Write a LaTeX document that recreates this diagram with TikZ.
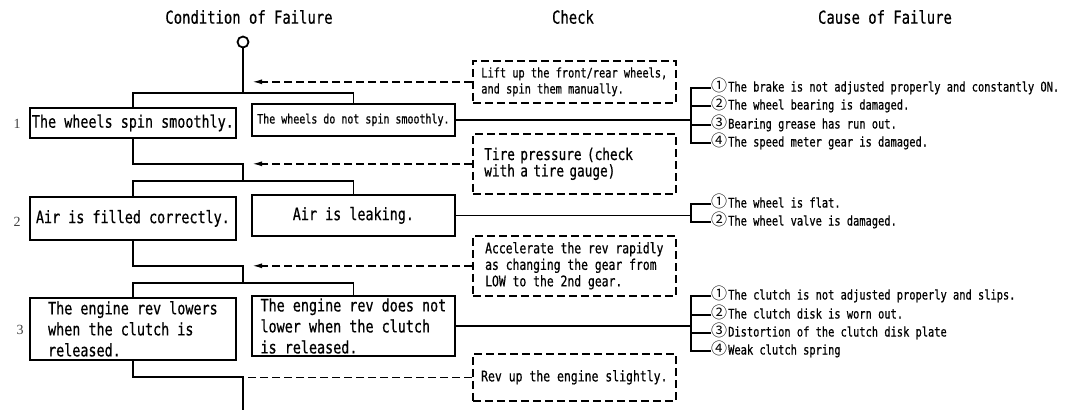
\documentclass[tikz,border=0pt]{standalone}
\usepackage{fontspec}
\setmainfont{DejaVu Sans Mono}[FakeStretch=0.78,FakeBold=0.6]
\newfontfamily\circfont{Noto Sans CJK JP}
\newfontfamily\numfont{Liberation Serif}
\usepackage{tikz}
\usetikzlibrary{arrows.meta,calc}

% circled item number in front of each cause
\newcommand{\cnum}[1]{\makebox[17pt][l]{\circfont\fontsize{16}{16}\selectfont #1}}

\begin{document}
\begin{tikzpicture}[x=1pt,y=-1pt,
  flow/.style={line width=1.8pt},
  hint/.style={line width=1.6pt, dash pattern=on 8pt off 4pt},
  head/.style={inner sep=0pt, font=\fontsize{17.8}{20}\selectfont},
  condbox/.style={draw, line width=1.8pt, anchor=north west, inner sep=1pt, align=left, font=\fontsize{17.2}{21}\selectfont},
  smalltext/.style={font=\fontsize{12.8}{14}\selectfont},
  checkbox/.style={draw, line width=1.6pt, dash pattern=on 8pt off 4pt, anchor=north west, minimum width=203, inner sep=1pt, align=left},
  cause/.style={anchor=west, inner sep=0pt, text height=10pt, text depth=3pt, font=\fontsize{13.3}{15}\selectfont},
  rowno/.style={inner sep=0pt, text=black!75, font=\numfont\fontsize{14}{16}\selectfont},
  startmark/.style={draw, circle, line width=1.8pt, minimum size=11, inner sep=0pt},
]
  \fill[white] (0,0) rectangle (1066,410);
  \useasboundingbox (0,0) rectangle (1066,410);

  % Column headings
  \node[head] (hcond) at (249,17) {Condition of Failure};
  \node[head] (hcheck) at (573,17) {Check};
  \node[head] (hcause) at (885,17) {Cause of Failure};

  \node[startmark] (start) at (243,42) {};

  % Step 1: wheels
  \node[rowno] (no1) at (17,124) {1};
  \node[condbox, minimum width=206, minimum height=30] (ok1) at (29,107) {The wheels spin smoothly.};
  \node[condbox, smalltext, minimum width=203, minimum height=32] (ng1) at (251,103) {The wheels do not spin smoothly.};
  \node[checkbox, font=\fontsize{13.2}{16}\selectfont, minimum height=42] (chk1) at (472,60) {Lift up the front/rear wheels,\\and spin them manually.};

  \node[cause] (c11) at (711,88) {\cnum{①}The brake is not adjusted properly and constantly ON.};
  \node[cause] (c12) at (711,106) {\cnum{②}The wheel bearing is damaged.};
  \node[cause] (c13) at (711,125) {\cnum{③}Bearing grease has run out.};
  \node[cause] (c14) at (711,143) {\cnum{④}The speed meter gear is damaged.};

  \coordinate (bar1) at (243,93);
  \coordinate (jog1) at (243,164);
  \draw[flow] (start) -- (bar1);
  \draw[flow] (ok1.north) -- (ok1.north |- bar1) -- (ng1.north |- bar1) -- (ng1.north);
  \draw[hint, -{Latex[length=10pt,width=5pt]}] (chk1.west) -- ([xshift=9pt]chk1.west -| bar1);
  \draw[flow] (ng1.east) -- ([xshift=-20pt]ng1.east -| c11.west);
  \draw[flow] (c11.west) -- ++(-20,0) |- (c14.west);
  \foreach \c in {c12,c13} \draw[flow] (\c.west) -- ++(-20,0);

  % Step 2: tire air
  \node[rowno] (no2) at (17,222) {2};
  \node[condbox, minimum width=206, minimum height=43] (ok2) at (29,196) {Air is filled correctly.};
  \node[condbox, minimum width=203, minimum height=41] (ng2) at (251,194) {Air is leaking.};
  \node[checkbox, text width=180, font=\fontsize{16.3}{16.5}\selectfont, minimum height=60] (chk2) at (472,133) {Tire pressure (check\\with a tire gauge)};

  \node[cause] (c21) at (711,204) {\cnum{①}The wheel is flat.};
  \node[cause] (c22) at (711,222) {\cnum{②}The wheel valve is damaged.};

  \coordinate (bar2) at (243,181);
  \coordinate (jog2) at (243,266);
  \draw[flow] (ok1.south) |- (jog1) -- (bar2);
  \draw[flow] (ok2.north) -- (ok2.north |- bar2) -- (ng2.north |- bar2) -- (ng2.north);
  \draw[hint, -{Latex[length=10pt,width=5pt]}] (chk2.west) -- ([xshift=9pt]chk2.west -| bar2);
  \draw[flow] (ng2.east) -- ([xshift=-20pt]ng2.east -| c21.west);
  \draw[flow] (c21.west) -- ++(-20,0) |- (c22.west);

  % Step 3: clutch
  \node[rowno] (no3) at (20,330) {3};
  \node[condbox, minimum width=206, minimum height=62] (ok3) at (29,297) {The engine rev lowers\\when the clutch is\\released.};
  \node[condbox, minimum width=203, minimum height=60, text depth=0pt] (ng3) at (251,295) {The engine rev does not\\lower when the clutch\\is released.};
  \node[checkbox, font=\fontsize{14.6}{16.5}\selectfont, minimum height=60] (chk3) at (472,235) {Accelerate the rev rapidly\\as changing the gear from\\LOW to the 2nd gear.};

  \node[cause] (c31) at (711,296) {\cnum{①}The clutch is not adjusted properly and slips.};
  \node[cause] (c32) at (711,315) {\cnum{②}The clutch disk is worn out.};
  \node[cause] (c33) at (711,333) {\cnum{③}Distortion of the clutch disk plate};
  \node[cause] (c34) at (711,351) {\cnum{④}Weak clutch spring};

  \coordinate (bar3) at (243,283);
  \coordinate (jog3) at (243,377);
  \coordinate (tail) at (243,410);
  \draw[flow] (ok2.south) |- (jog2) -- (bar3);
  \draw[flow] (ok3.north) -- (ok3.north |- bar3) -- (ng3.north |- bar3) -- (ng3.north);
  \draw[hint, -{Latex[length=10pt,width=5pt]}] (chk3.west) -- ([xshift=9pt]chk3.west -| bar3);
  \draw[flow] (ng3.east) -- ([xshift=-20pt]ng3.east -| c31.west);
  \draw[flow] (c31.west) -- ++(-20,0) |- (c34.west);
  \foreach \c in {c32,c33} \draw[flow] (\c.west) -- ++(-20,0);

  % Next check
  \node[checkbox, font=\fontsize{14.7}{16}\selectfont, minimum height=47] (chk4) at (472,353) {Rev up the engine slightly.};
  \draw[flow] (ok3.south) |- (jog3) -- (tail);
  \draw[hint] (chk4.west) -- ([xshift=5pt]chk4.west -| jog3);
\end{tikzpicture}
\end{document}
